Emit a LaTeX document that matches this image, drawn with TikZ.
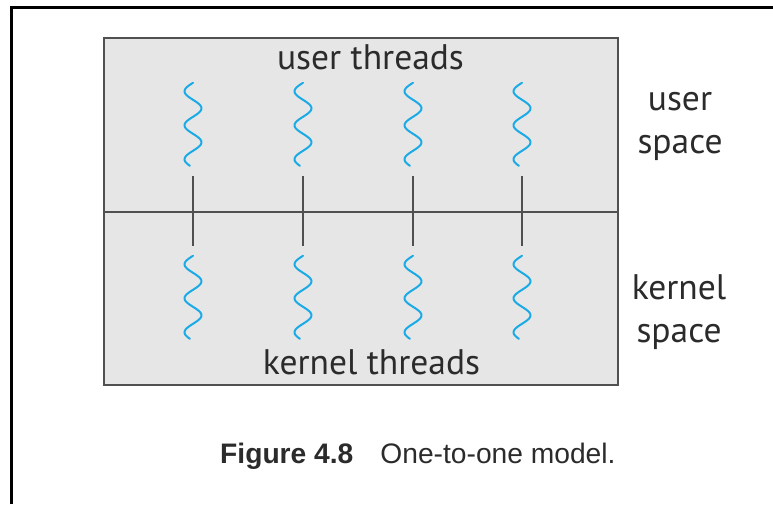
\documentclass[tikz,border=0pt]{standalone}
\usepackage{fontspec}
\setmainfont{PT Sans}
\newfontfamily\capfont{Liberation Sans}
\usetikzlibrary{positioning}
\definecolor{ThreadBlue}{HTML}{1AAAE6}
\definecolor{SpaceGray}{HTML}{E6E6E6}
\definecolor{EdgeGray}{HTML}{505050}
\definecolor{TextGray}{HTML}{2B2B2B}

\begin{document}
\begin{tikzpicture}[x=1pt,y=-1pt,
    thread/.style={minimum width=17pt,minimum height=84pt,inner sep=0pt},
    wave/.style={ThreadBlue,line width=2pt,line cap=round},
    tickline/.style={EdgeGray,line width=2pt},
    lbl/.style={text=TextGray,font=\fontsize{35.5}{43}\selectfont,inner sep=0pt}]
    \useasboundingbox (0,0) rectangle (773,504);
    \fill[white] (0,0) rectangle (773,504);
    % page frame, only left and top edge show
    \draw[line width=3pt] (11,504) -- (11,7) -- (773,7);
    \node[draw=EdgeGray,fill=SpaceGray,line width=2pt,minimum width=514pt,minimum height=347pt,inner sep=0pt] (box) at (361,211.5) {};
    \draw[tickline] (box.west) -- (box.east);
    \foreach \i/\xpos in {1/193,2/303,3/413,4/522} {
        \node[thread] (ut\i) at (\xpos,125) {};
        \node[thread] (kt\i) at (\xpos,298) {};
        \draw[wave,shift={(ut\i.north)}] plot[domain=0:83,samples=80,smooth] ({-8.5*sin(\x/34*360)},\x);
        \draw[wave,shift={(kt\i.north)}] plot[domain=0:83,samples=80,smooth] ({-8.5*sin(\x/34*360)},\x);
        \draw[tickline,shorten <=9pt,shorten >=10pt] (ut\i) -- (kt\i);
    }
    \node[lbl,anchor=base] (ulabel) at (370.5,69) {user threads};
    \node[lbl,anchor=base] (klabel) at (371.5,374) {kernel threads};
    \node[lbl,align=center] (uspace) at (680,126) {user\\space};
    \node[lbl,align=center] (kspace) at (679,312) {kernel\\space};
    \node[anchor=base west,font=\capfont\fontsize{28.2}{34}\selectfont,text=TextGray,inner sep=0pt] (caption) at (220,463) {\textbf{Figure 4.8}\hspace{27pt}One-to-one model.};
\end{tikzpicture}
\end{document}
